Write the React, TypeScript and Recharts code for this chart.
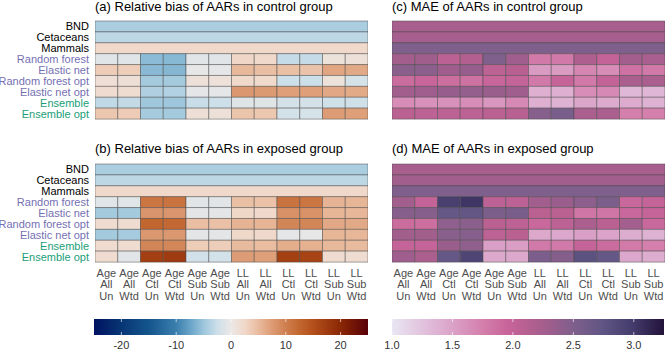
import React from 'react';
import { BarChart, Bar, XAxis, YAxis, Cell } from 'recharts';

// ---------- categories ----------
const rowLabels = [
  'BND', 'Cetaceans', 'Mammals',
  'Random forest', 'Elastic net', 'Random forest opt', 'Elastic net opt',
  'Ensemble', 'Ensemble opt',
];
const refRowCount = 3;
const colLabels = [
  'Age All Un', 'Age All Wtd', 'Age Ctl Un', 'Age Ctl Wtd', 'Age Sub Un', 'Age Sub Wtd',
  'LL All Un', 'LL All Wtd', 'LL Ctl Un', 'LL Ctl Wtd', 'LL Sub Un', 'LL Sub Wtd',
];

// ---------- (a) relative bias, control ----------
const biasControlRef = [-4.3, -3.3, 2.3];
const biasControlModel = [
  [-0.9, -0.9, -5.8, -6.0, -0.8, -0.8, 2.7, 2.4, -2.9, -2.9, 1.0, 1.2],
  [3.5, 3.4, -5.9, -6.1, -0.4, -0.5, 5.2, 4.7, 4.6, 4.3, 6.7, 6.4],
  [1.5, 1.4, -4.6, -4.6, 1.2, 1.1, 2.4, 2.2, -2.5, -2.5, 1.0, -1.8],
  [2.0, 1.8, -4.0, -3.9, -0.6, -0.6, 7.8, 7.6, 7.2, 7.2, 6.5, 6.3],
  [-3.1, -3.0, -4.8, -4.9, -2.7, -2.5, -1.0, -1.0, -1.9, -1.9, -2.3, -2.3],
  [4.0, 3.6, -4.5, -4.6, 1.4, 1.2, 4.2, 3.9, -2.0, -1.8, 7.4, 7.2],
];

// ---------- (b) relative bias, exposed ----------
const biasExposedRef = [-4.3, -3.3, 2.3];
const biasExposedModel = [
  [-0.9, -0.9, 11.0, 11.2, -0.8, -0.8, 4.6, 4.4, 11.2, 11.0, 5.6, 5.4],
  [-4.6, -4.6, 8.1, 8.0, -0.7, -0.7, 2.5, 2.3, 8.4, 8.3, 5.4, 5.3],
  [2.0, 1.8, 12.5, 12.3, 4.7, 4.5, 5.6, 5.5, 9.4, 9.5, 6.5, 6.4],
  [-4.6, -4.5, 7.8, 7.8, -0.7, -0.7, 2.5, 2.3, -0.5, -0.4, 5.4, 5.3],
  [2.0, 1.8, 9.5, 9.3, 3.5, 3.4, 5.0, 4.8, 6.0, 5.8, 5.2, 5.0],
  [2.0, -0.8, 17.0, 17.5, -2.2, -2.0, 7.4, 7.2, 16.8, 16.5, 2.0, 1.9],
];

// ---------- (c) MAE, control ----------
const maeControlRef = [2.23, 2.24, 2.5];
const maeControlModel = [
  [2.26, 2.29, 2.06, 2.14, 2.5, 2.3, 1.8, 1.8, 2.18, 2.0, 2.27, 2.22],
  [2.43, 2.42, 2.3, 2.35, 2.05, 2.1, 1.55, 1.55, 1.7, 1.65, 1.85, 1.8],
  [1.9, 1.95, 1.88, 1.85, 1.95, 1.98, 1.8, 1.97, 1.8, 2.0, 2.2, 2.2],
  [2.28, 2.3, 2.35, 2.37, 2.33, 2.3, 1.4, 1.4, 1.65, 1.68, 1.33, 1.35],
  [1.65, 1.62, 1.62, 1.65, 1.58, 1.68, 1.4, 1.38, 1.48, 1.43, 1.43, 1.38],
  [2.08, 2.05, 2.05, 2.05, 2.08, 2.1, 2.45, 2.55, 2.2, 2.2, 1.75, 1.75],
];

// ---------- (d) MAE, exposed ----------
const maeExposedRef = [2.23, 2.28, 2.5];
const maeExposedModel = [
  [2.28, 2.0, 2.95, 3.03, 2.05, 2.05, 2.28, 2.33, 2.42, 2.52, 1.93, 1.98],
  [2.45, 2.45, 2.7, 2.72, 2.52, 2.55, 2.08, 2.08, 1.82, 1.82, 1.93, 1.98],
  [1.9, 1.88, 2.4, 2.43, 2.08, 2.05, 1.93, 2.05, 2.2, 2.08, 2.25, 1.93],
  [2.28, 2.28, 2.44, 2.45, 2.05, 2.08, 1.45, 1.46, 1.52, 1.49, 1.42, 1.38],
  [1.98, 1.98, 2.33, 2.4, 1.52, 1.53, 1.8, 1.8, 1.98, 1.9, 1.78, 1.75],
  [2.3, 2.2, 2.7, 2.9, 1.45, 1.45, 2.53, 2.47, 2.78, 2.7, 1.46, 1.42],
];

// ---------- legend scales ----------
const biasDomain: [number, number] = [-25, 25];
const biasTicks = [-20, -10, 0, 10, 20];
const maeDomain: [number, number] = [1.0, 3.25];
const maeTicks = [1.0, 1.5, 2.0, 2.5, 3.0];

const titles = {
  a: '(a) Relative bias of AARs in control group',
  b: '(b) Relative bias of AARs in exposed group',
  c: '(c) MAE of AARs in control group',
  d: '(d) MAE of AARs in exposed group',
};

// ---------- palettes ----------
const divStops: [number, string][] = [
  [-25, '#011261'], [-20, '#073674'], [-15, '#14558c'], [-10, '#3b7fae'],
  [-7.5, '#68a3c8'], [-5, '#9cc6dc'], [-2.5, '#cddfe9'], [0, '#ebe8e6'],
  [2.5, '#f0d8c9'], [5, '#e9bb9e'], [7.5, '#dd9b74'], [10, '#cf7f4f'],
  [12.5, '#c2662f'], [15, '#b34f1b'], [20, '#8a2705'], [25, '#590008'],
];
const maeStops: [number, string][] = [
  [1.0, '#e9e6f3'], [1.25, '#e2c3de'], [1.5, '#dba2c8'], [1.75, '#d47fac'],
  [1.95, '#c8659a'], [2.1, '#b86091'], [2.3, '#9f5e8d'], [2.5, '#7f5f8c'],
  [2.75, '#5f5584'], [3.0, '#433b6b'], [3.25, '#22123a'],
];

const FONT = '"Liberation Sans", Arial, Helvetica, sans-serif';

function hexToRgb(h: string) {
  const n = parseInt(h.slice(1), 16);
  return [(n >> 16) & 255, (n >> 8) & 255, n & 255];
}
function colorAt(stops: [number, string][], v: number) {
  if (v <= stops[0][0]) return stops[0][1];
  if (v >= stops[stops.length - 1][0]) return stops[stops.length - 1][1];
  for (let i = 0; i < stops.length - 1; i++) {
    const [v0, c0] = stops[i];
    const [v1, c1] = stops[i + 1];
    if (v >= v0 && v <= v1) {
      const t = (v - v0) / (v1 - v0);
      const a = hexToRgb(c0);
      const b = hexToRgb(c1);
      const m = a.map((x, k) => Math.round(x + (b[k] - x) * t));
      return `rgb(${m[0]},${m[1]},${m[2]})`;
    }
  }
  return stops[0][1];
}

function rowColor(label: string) {
  const i = rowLabels.indexOf(label);
  if (i < refRowCount) return '#000000';
  if (label.startsWith('Ensemble')) return '#1B9E77';
  return '#7570B3';
}

const RowTick = (props: any) => {
  const { x, y, payload } = props;
  return (
    <text x={x - 6} y={y + 4} textAnchor="end" fontSize={11} fontFamily={FONT} fill={rowColor(payload.value)}>
      {payload.value}
    </text>
  );
};

const ColTick = (props: any) => {
  const { x, y, payload } = props;
  const idx = Math.floor(payload.value);
  const lines = (colLabels[idx] || '').split(' ');
  return (
    <g>
      {lines.map((l, k) => (
        <text key={k} x={x} y={y + 15 + k * 11.3} textAnchor="middle" fontSize={11} fontFamily={FONT} fill="#4d4d4d">
          {l}
        </text>
      ))}
    </g>
  );
};

type HeatProps = {
  refVals: number[];
  modelVals: number[][];
  stops: [number, string][];
  width: number;
  height: number;
  margin: any;
  showY: boolean;
  showX: boolean;
};

function Heatmap({ refVals, modelVals, stops, width, height, margin, showY, showX }: HeatProps) {
  const nCols = colLabels.length;
  const data = rowLabels.map((label, i) => {
    const row: any = { label };
    colLabels.forEach((_, j) => {
      row['c' + j] = i < refRowCount ? (j === 0 ? nCols : 0) : 1;
    });
    return row;
  });
  const valueAt = (i: number, j: number) => (i < refRowCount ? refVals[i] : modelVals[i - refRowCount][j]);
  return (
    <BarChart width={width} height={height} data={data} layout="vertical" margin={margin} barCategoryGap={0} barGap={0}>
      <XAxis
        type="number"
        domain={[0, nCols]}
        ticks={colLabels.map((_, j) => j + 0.5)}
        interval={0}
        hide={!showX}
        height={48}
        axisLine={false}
        tickLine={false}
        tickSize={0}
        tickMargin={0}
        tick={<ColTick />}
        allowDataOverflow
      />
      <YAxis
        type="category"
        dataKey="label"
        hide={!showY}
        width={95}
        axisLine={false}
        tickLine={false}
        tickSize={0}
        tickMargin={0}
        interval={0}
        tick={<RowTick />}
      />
      {colLabels.map((_, j) => (
        <Bar key={j} dataKey={'c' + j} stackId="s" isAnimationActive={false}>
          {data.map((__, i) => (
            <Cell key={i} fill={colorAt(stops, valueAt(i, j))} stroke="#4a4a4a" strokeWidth={0.5} />
          ))}
        </Bar>
      ))}
    </BarChart>
  );
}

const makeCbTick = (fmt: (v: number) => string) => (props: any) => {
  const { x, y, payload } = props;
  return (
    <g>
      <line x1={x} x2={x} y1={y - 16} y2={y - 13} stroke="#ffffff" strokeOpacity={0.8} strokeWidth={0.8} />
      <line x1={x} x2={x} y1={y - 3} y2={y} stroke="#ffffff" strokeOpacity={0.8} strokeWidth={0.8} />
      <text x={x} y={y + 14} textAnchor="middle" fontSize={11} fontFamily={FONT} fill="#333333">
        {fmt(payload.value)}
      </text>
    </g>
  );
};

type CbProps = {
  id: string;
  stops: [number, string][];
  domain: [number, number];
  ticks: number[];
  fmt: (v: number) => string;
  width: number;
  margin: any;
};

function ColorBar({ id, stops, domain, ticks, fmt, width, margin }: CbProps) {
  const data = [{ name: 'scale', range: domain }];
  const Tick = makeCbTick(fmt);
  return (
    <BarChart width={width} height={41} data={data} layout="vertical" margin={margin} barCategoryGap={0}>
      <defs>
        <linearGradient id={id} x1="0" y1="0" x2="1" y2="0">
          {stops.map(([v, c], k) => (
            <stop key={k} offset={(v - domain[0]) / (domain[1] - domain[0])} stopColor={c} />
          ))}
        </linearGradient>
      </defs>
      <XAxis
        type="number"
        domain={domain}
        ticks={ticks}
        interval={0}
        height={16}
        axisLine={false}
        tickLine={false}
        tickSize={0}
        tickMargin={0}
        tick={<Tick />}
        allowDataOverflow
      />
      <YAxis type="category" dataKey="name" hide />
      <Bar dataKey="range" fill={`url(#${id})`} isAnimationActive={false} />
    </BarChart>
  );
}

const abs = (left: number, top: number): React.CSSProperties => ({ position: 'absolute', left, top });

export default function App() {
  return (
    <div style={{ position: 'absolute', left: 0, top: 0, width: 666, height: 351, background: '#ffffff', fontFamily: FONT, overflow: 'hidden' }}>
      <svg width={666} height={351} style={{ position: 'absolute', left: 0, top: 0 }}>
        <text x={95} y={11} fontSize={13} fontFamily={FONT} fill="#000">{titles.a}</text>
        <text x={392} y={11} fontSize={13} fontFamily={FONT} fill="#000">{titles.c}</text>
        <text x={95} y={153} fontSize={13} fontFamily={FONT} fill="#000">{titles.b}</text>
        <text x={392} y={153} fontSize={13} fontFamily={FONT} fill="#000">{titles.d}</text>
      </svg>
      <div style={abs(0, 0)}>
        <Heatmap refVals={biasControlRef} modelVals={biasControlModel} stops={divStops} width={370} height={121}
          margin={{ top: 21, right: 2, bottom: 2, left: 0 }} showY showX={false} />
      </div>
      <div style={abs(390, 0)}>
        <Heatmap refVals={maeControlRef} modelVals={maeControlModel} stops={maeStops} width={276} height={121}
          margin={{ top: 21, right: 1, bottom: 2, left: 2 }} showY={false} showX={false} />
      </div>
      <div style={abs(0, 150)}>
        <Heatmap refVals={biasExposedRef} modelVals={biasExposedModel} stops={divStops} width={370} height={160}
          margin={{ top: 14, right: 2, bottom: 0, left: 0 }} showY showX />
      </div>
      <div style={abs(390, 150)}>
        <Heatmap refVals={maeExposedRef} modelVals={maeExposedModel} stops={maeStops} width={276} height={160}
          margin={{ top: 14, right: 1, bottom: 0, left: 2 }} showY={false} showX />
      </div>
      <div style={abs(0, 310)}>
        <ColorBar id="biasGrad" stops={divStops} domain={biasDomain} ticks={biasTicks} fmt={(v) => String(v)}
          width={370} margin={{ top: 9, right: 2, bottom: 0, left: 94 }} />
      </div>
      <div style={abs(376, 310)}>
        <ColorBar id="maeGrad" stops={maeStops} domain={maeDomain} ticks={maeTicks} fmt={(v) => v.toFixed(1)}
          width={290} margin={{ top: 9, right: 2, bottom: 0, left: 16 }} />
      </div>
    </div>
  );
}
